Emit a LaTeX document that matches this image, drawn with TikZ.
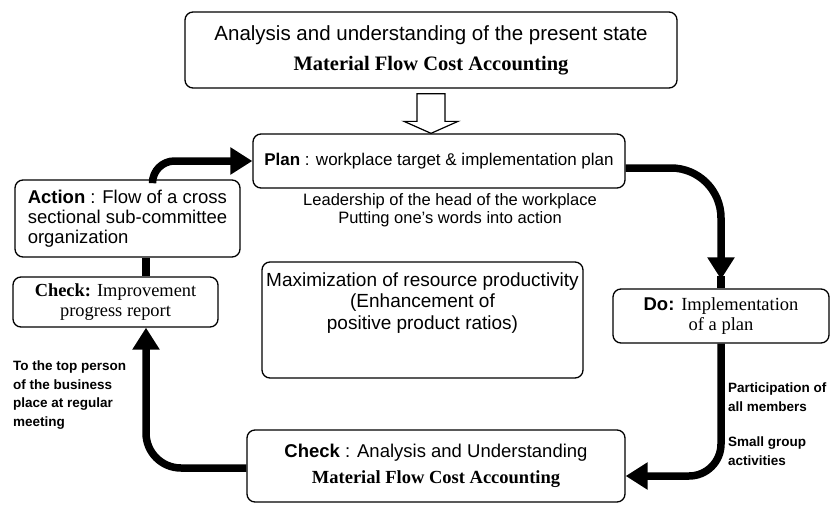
\documentclass[tikz,border=0pt]{standalone}
\usepackage{fontspec}
\setmainfont{Liberation Sans}
\newfontfamily\tmsfont{Liberation Serif}
\usetikzlibrary{arrows.meta,calc}

\begin{document}
\begin{tikzpicture}[x=1pt,y=-1pt,
  box/.style={draw, line width=1.3pt, rounded corners=8pt, inner sep=0pt},
  flow/.style={line width=7.5pt, -{Triangle[length=22pt,width=26pt]}},
  bar/.style={line width=7.5pt},
  note/.style={inner sep=0pt, align=left, font=\bfseries\fontsize{13.5}{18.5}\selectfont},
  hollow/.style={draw, line width=1.2pt, fill=white, line join=miter}]
\useasboundingbox (0,0) rectangle (832,506);

% boxes of the improvement cycle
\node[box, minimum width=492pt, minimum height=76pt, align=center,
      font=\fontsize{20.5}{30}\selectfont] (top) at (431,50)
  {Analysis and understanding of the present state\\{\tmsfont\bfseries Material Flow Cost Accounting}};

\node[box, minimum width=372pt, minimum height=54pt,
      font=\fontsize{17}{20}\selectfont] (plan) at (439,161)
  {\textbf{Plan} : workplace target \& implementation plan};

\node[box, minimum width=225pt, minimum height=77pt, align=left,
      font=\fontsize{18.5}{20}\selectfont] (act) at (127.5,218.5)
  {\textbf{Action} : Flow of a cross\\sectional sub-committee\\organization};

\node[box, minimum width=205pt, minimum height=50pt, align=center,
      font=\tmsfont\fontsize{18.4}{20}\selectfont] (chk) at (115.5,302)
  {\textbf{Check:} Improvement\\progress report};

\node[box, minimum width=321pt, minimum height=116pt] (mid) at (422.5,320) {};
\node[inner sep=0pt, anchor=north, align=center,
      font=\fontsize{19}{21.5}\selectfont] (midtxt) at ([yshift=-11pt]mid.north)
  {Maximization of resource productivity\\(Enhancement of\\positive product ratios)};

\node[box, minimum width=216pt, minimum height=54pt, align=center,
      font=\fontsize{18.5}{20}\selectfont] (do) at (721,316)
  {\textbf{Do:} {\tmsfont Implementation}\\{\tmsfont of a plan}};

\node[box, minimum width=378pt, minimum height=72pt, align=center,
      font=\fontsize{18.5}{26}\selectfont] (chkb) at (436,466)
  {\textbf{Check} : Analysis and Understanding\\{\tmsfont\bfseries Material Flow Cost Accounting}};

% side remarks
\node[inner sep=0pt, align=center, font=\fontsize{16.5}{18}\selectfont] (lead) at (450,210)
  {Leadership of the head of the workplace\\Putting one's words into action};
\node[note, anchor=north west] (part) at (728,383) {Participation of\\all members};
\node[note, anchor=north west] (small) at (728,437) {Small group\\activities};
\node[note, anchor=north west] (topp) at (13,361) {To the top person\\of the business\\place at regular\\meeting};

% hollow arrow from the present state into the plan
\coordinate (hs) at ([yshift=-5pt]top.south);
\coordinate (ht) at (top.south |- plan.north);
\draw[hollow] ([xshift=-14pt]hs) -- ([xshift=-14pt,yshift=12pt]ht)
  -- ([xshift=-27pt,yshift=12pt]ht) -- (ht) -- ([xshift=27pt,yshift=12pt]ht)
  -- ([xshift=14pt,yshift=12pt]ht) -- ([xshift=14pt]hs) -- cycle;

% cycle connectors
\draw[flow, rounded corners=22pt] ([xshift=25pt]act.north) |- (plan.west);
\draw[flow, rounded corners=50pt] ([yshift=-7pt]plan.east) -| ([yshift=9pt]do.north);
\draw[bar] ([yshift=12pt]do.north) -- (do.north);
\draw[flow, rounded corners=32pt] (do.south) |- ([yshift=-10pt]chkb.east);
\draw[flow, rounded corners=35pt] ([yshift=-2pt]chkb.west) -| ([xshift=30.5pt]chk.south);
\draw[bar] ([xshift=18.5pt]act.south) -- ([xshift=18.5pt]act.south |- chk.north);
\end{tikzpicture}
\end{document}
